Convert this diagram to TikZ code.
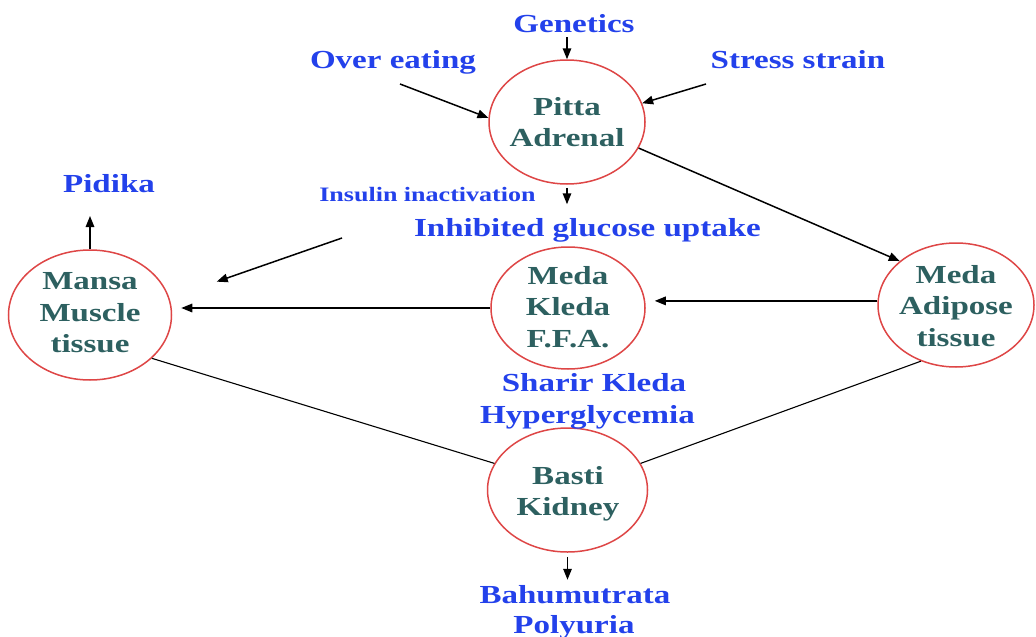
\documentclass[tikz,border=0pt]{standalone}
\usepackage{fontspec}
\setmainfont{Liberation Serif}[FakeStretch=1.27]
\usetikzlibrary{arrows.meta,shapes.geometric,calc}
\definecolor{bluetxt}{RGB}{35,65,235}
\definecolor{tealtxt}{RGB}{45,96,96}
\definecolor{ringred}{RGB}{222,70,70}
\begin{document}
\begin{tikzpicture}[x=1pt,y=-1pt,
  ring/.style={draw=ringred, line width=1.5pt, ellipse, inner sep=0pt},
  bt/.style={text=bluetxt, font=\bfseries\fontsize{26}{31}\selectfont, inner sep=0pt, anchor=base},
  bts/.style={text=bluetxt, font=\bfseries\fontsize{20.5}{24}\selectfont, inner sep=0pt, anchor=base},
  ct/.style={text=tealtxt, font=\bfseries\fontsize{26}{31.5}\selectfont, align=center, inner sep=0pt},
  arr/.style={-{Triangle[length=11pt,width=8.5pt]}, line width=1.5pt},
  ln/.style={line width=1.1pt}]
\useasboundingbox[fill=white] (0,0) rectangle (1036,637);

% ellipses
\node[ring, minimum width=156pt, minimum height=124pt] (pitta) at (567,122) {};
\node[ring, minimum width=163pt, minimum height=130pt] (mansa) at (90,315) {};
\node[ring, minimum width=154pt, minimum height=122pt] (kleda) at (568,308) {};
\node[ring, minimum width=156pt, minimum height=124pt] (adip) at (956,305) {};
\node[ring, minimum width=160pt, minimum height=124pt] (basti) at (567.5,490) {};

% texts inside ellipses
\node[ct] (pittaT) at (pitta) {Pitta\\Adrenal};
\node[ct] (mansaT) at (90,313) {Mansa\\Muscle\\tissue};
\node[ct] (kledaT) at (568,307) {Meda\\Kleda\\F.F.A.};
\node[ct] (adipT) at (956,306) {Meda\\Adipose\\tissue};
\node[ct] (bastiT) at (568,494) {Basti\\Kidney};

% blue labels
\node[bt] (gen) at (574,32) {Genetics};
\node[bt] (over) at (393,68) {Over eating};
\node[bt] (stress) at (798,68) {Stress strain};
\node[bt] (pid) at (109,192) {Pidika};
\node[bts] (ins) at (427.5,201.5) {Insulin inactivation};
\node[bt] (inhib) at (587.5,236.5) {Inhibited glucose uptake};
\node[bt] (sharir) at (594,391) {Sharir Kleda};
\node[bt] (hyper) at (587.5,423) {Hyperglycemia};
\node[bt] (bahu) at (575,603) {Bahumutrata};
\node[bt] (poly) at (574,633) {Polyuria};

% free start points
\coordinate (overS) at (400,84);
\coordinate (stressS) at (706,84);
\coordinate (insS) at (342,238);

% connectors
\draw[arr, shorten <=5pt] (pitta.north |- gen.south) -- (pitta.north);
\draw[arr] (overS) -- (pitta.177);
\draw[arr] (stressS) -- (pitta.14);
\draw[arr] (pitta.-20) -- (adip.142);
\draw[arr, shorten <=3pt, shorten >=14pt] (pitta.south) -- (pitta.south |- inhib.north);
\draw[arr, shorten >=50pt] (insS) -- (mansa.12.6);
\draw[arr, shorten >=9pt] (kleda.west) -- (kleda.west -| mansa.east);
\draw[arr, shorten >=9pt] (adip.177) -- (adip.177 -| kleda.east);
\draw[arr, shorten >=24pt] (mansa.north) -- (mansa.north |- pid.base);
\draw[ln] (mansa.-35.6) -- (basti.160);
\draw[ln] (adip.-122) -- (basti.20);
\draw[arr, shorten <=4pt, shorten >=5pt] (basti.south) -- (basti.south |- bahu.north);
\end{tikzpicture}
\end{document}
